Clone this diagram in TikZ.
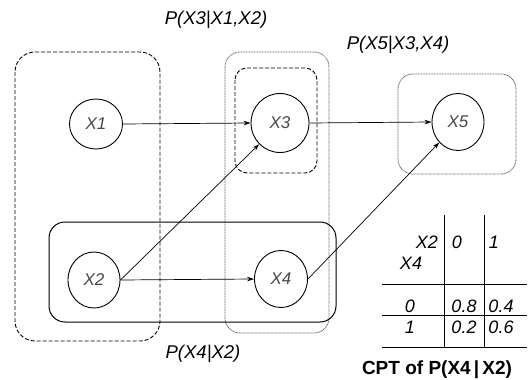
\documentclass[tikz,border=0pt]{standalone}
\usepackage{fontspec}
\setmainfont{Liberation Sans}
\usetikzlibrary{shapes.geometric,arrows.meta}
\begin{document}
\begin{tikzpicture}[x=1pt,y=-1pt,
  var/.style={ellipse,draw,line width=0.9pt,minimum width=53pt,minimum height=55pt,inner sep=0pt,
    font=\fontsize{17}{19}\selectfont\itshape,text=black!72},
  edge/.style={-{Stealth[length=7pt,width=4.5pt]},line width=0.7pt},
  lbl/.style={font=\fontsize{18.5}{20}\selectfont\itshape,inner sep=0pt},
  tbl/.style={font=\fontsize{18}{20}\selectfont\itshape,inner sep=0pt},
  dashbox/.style={draw,line width=0.9pt,dash pattern=on 4pt off 2pt,rounded corners=20pt},
  dotbox/.style={draw,black!60,line width=0.8pt,dash pattern=on 1pt off 0.6pt,rounded corners=15pt},
  solidbox/.style={draw,line width=1pt,rounded corners=16pt},
  tline/.style={line width=0.9pt}]
\useasboundingbox (0,0) rectangle (528,380);
% group boxes
\draw[dashbox] (15,52) rectangle (160,341);
\draw[dotbox] (225,52) rectangle (329,333);
\draw[dashbox,rounded corners=12pt] (235,68) rectangle (317,173);
\draw[dotbox] (398,74) rectangle (516,174);
\draw[solidbox] (49,222) rectangle (336,322);
% variables
\node[var,minimum height=50pt] (X1) at (96,124) {X1};
\node[var,minimum width=58pt,minimum height=59pt] (X3) at (280,123) {X3};
\node[var,minimum width=52pt,minimum height=57pt] (X5) at (458,122) {X5};
\node[var,minimum width=52pt,minimum height=56pt] (X2) at (94,280) {X2};
\node[var,minimum height=57pt] (X4) at (281,279) {X4};
% edges
\draw[edge] (X1.east) -- (X3.west);
\draw[edge] (X2.east) -- (X3.south west);
\draw[edge] (X2.east) -- (X4.west);
\draw[edge] (X3.east) -- (X5.west);
\draw[edge] (X4.east) -- (X5.south west);
% labels
\node[lbl] (l1) at (216,20) {P(X3|X1,X2)};
\node[lbl] (l2) at (398,45) {P(X5|X3,X4)};
\node[lbl] (l3) at (203,354) {P(X4|X2)};
% CPT table
\coordinate (v1t) at (444,215); \coordinate (v1b) at (444,347);
\coordinate (v2t) at (484,215); \coordinate (v2b) at (484,347);
\coordinate (h1l) at (382,284); \coordinate (h1r) at (527,284);
\coordinate (h2l) at (382,315); \coordinate (h2r) at (527,315);
\coordinate (h3l) at (382,347); \coordinate (h3r) at (527,347);
\draw[tline] (v1t) -- (v1b);
\draw[tline] (v2t) -- (v2b);
\draw[tline] (h1l) -- (h1r);
\draw[tline] (h2l) -- (h2r);
\draw[tline] (h3l) -- (h3r);
\node[tbl,anchor=east] (hx2) at (438,242) {X2};
\node[tbl] (hx4) at (411,263) {X4};
\node[tbl] (c0) at (457,242) {0};
\node[tbl] (c1) at (494,242) {1};
\node[tbl] (r0) at (410,306) {0};
\node[tbl] (r1) at (410,327) {1};
\node[tbl] (a) at (464,306) {0.8};
\node[tbl] (b) at (501,306) {0.4};
\node[tbl] (c) at (464,327) {0.2};
\node[tbl] (d) at (501,327) {0.6};
\node[font=\fontsize{19}{21}\selectfont\bfseries,inner sep=0pt] (cpt) at (437,370) {CPT of P(X4\,|\,X2)};
\end{tikzpicture}
\end{document}
